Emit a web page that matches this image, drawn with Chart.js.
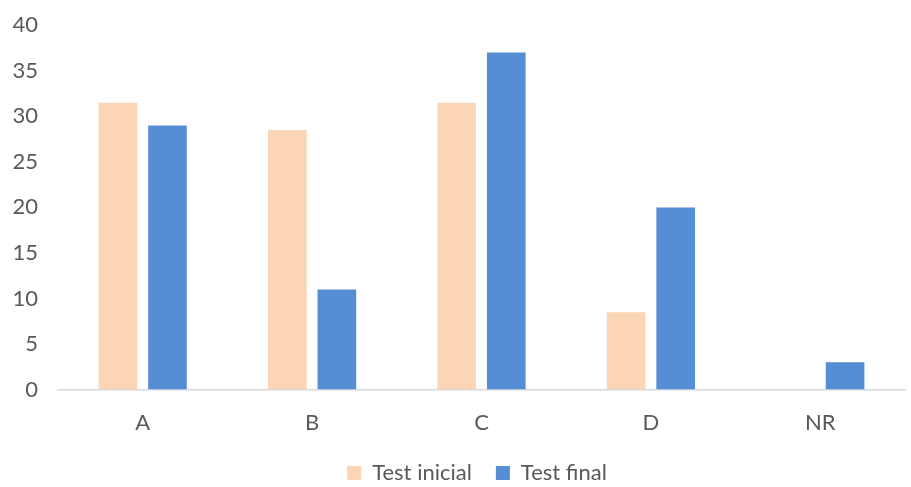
<!DOCTYPE html>
<html>
<head>
<meta charset="utf-8">
<script src="https://cdn.jsdelivr.net/npm/chart.js@4/dist/chart.umd.min.js"></script>
<style>
  html, body { margin: 0; padding: 0; background: #fff; }
  #wrap { width: 911px; height: 487px; position: relative; }
</style>
</head>
<body>
<div id="wrap"><canvas id="chart"></canvas></div>
<script>
const categories = ['A', 'B', 'C', 'D', 'NR'];
const testInicial = [31.5, 28.5, 31.5, 8.5, 0];
const testFinal = [29, 11, 37, 20, 3];
const yTicks = [0, 5, 10, 15, 20, 25, 30, 35, 40];

const textColor = '#595959';
const fontFamily = 'Lato, "Open Sans", sans-serif';

// pull the legend closer to the bottom edge and center it under the plot area
const legendNudge = {
    id: 'legendNudge',
    beforeInit(chart) {
        const fit = chart.legend.fit;
        chart.legend.fit = function () {
            fit.call(this);
            this.height -= 7;
        };
    },
    afterLayout(chart) {
        chart.legend.left += 18;
        chart.legend.right += 18;
    }
};

const ctx = document.getElementById('chart');

new Chart(ctx, {
    type: 'bar',
    data: {
        labels: categories,
        datasets: [{
            label: 'Test inicial',
            data: testInicial,
            backgroundColor: '#FBD5B5',
            barPercentage: 0.78,
            categoryPercentage: 0.585,
        }, {
            label: 'Test final',
            data: testFinal,
            backgroundColor: '#558ED5',
            barPercentage: 0.78,
            categoryPercentage: 0.585,
        }]
    },
    options: {
        responsive: true,
        maintainAspectRatio: false,
        animation: false,
        layout: {
            padding: { left: 13, right: 6, top: 0, bottom: 0 }
        },
        scales: {
            x: {
                grid: { display: false },
                border: { display: true, color: '#D9D9D9', width: 1.5 },
                ticks: { color: textColor, font: { family: fontFamily, size: 22 }, padding: 12 },
                afterFit: axis => { axis.height -= 10; }
            },
            y: {
                min: 0,
                max: 40,
                afterBuildTicks: axis => { axis.ticks = yTicks.map(v => ({ value: v })); },
                grid: { display: false },
                border: { display: false },
                ticks: { color: textColor, font: { family: fontFamily, size: 22 }, padding: 12 },
                afterFit: axis => { axis.width = 45; }
            }
        },
        plugins: {
            legend: {
                display: true,
                position: 'bottom',
                labels: {
                    color: textColor,
                    font: { family: fontFamily, size: 22 },
                    boxWidth: 14,
                    boxHeight: 14,
                    padding: 24
                }
            },
            tooltip: { enabled: false }
        }
    },
    plugins: [legendNudge]
});
</script>
</body>
</html>
